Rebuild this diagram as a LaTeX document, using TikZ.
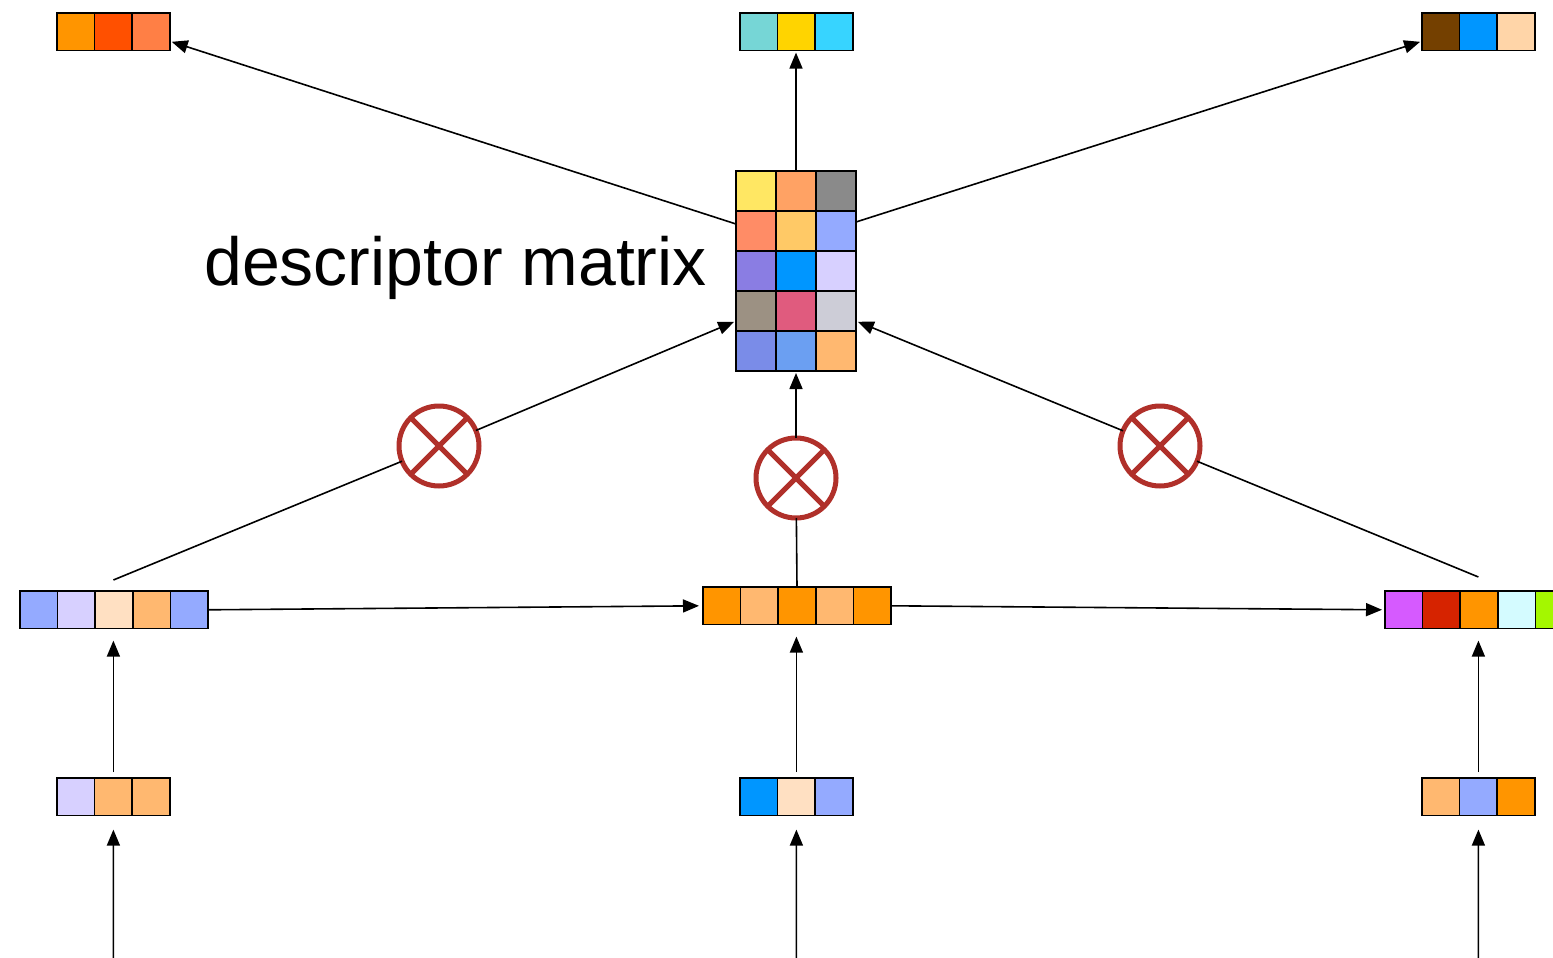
\documentclass[tikz,border=0pt]{standalone}
\usepackage{fontspec}
\setmainfont{Liberation Sans}
\usetikzlibrary{arrows.meta,calc}

% palette
\definecolor{cOrange}{HTML}{FF9500}
\definecolor{cRedOr}{HTML}{FF5000}
\definecolor{cCoral}{HTML}{FF7F45}
\definecolor{cTeal}{HTML}{76D6D6}
\definecolor{cGold}{HTML}{FFD400}
\definecolor{cSky}{HTML}{37D4FF}
\definecolor{cBrown}{HTML}{744000}
\definecolor{cBlue}{HTML}{0096FF}
\definecolor{cPeach}{HTML}{FFD5A8}
\definecolor{cYellow}{HTML}{FFE763}
\definecolor{cApricot}{HTML}{FFA264}
\definecolor{cGray}{HTML}{8A8A8A}
\definecolor{cSalmon}{HTML}{FF8C66}
\definecolor{cMango}{HTML}{FFC966}
\definecolor{cPeri}{HTML}{94AAFF}
\definecolor{cViolet}{HTML}{8A7DE3}
\definecolor{cLilac}{HTML}{D7D0FF}
\definecolor{cTaupe}{HTML}{9C9183}
\definecolor{cRose}{HTML}{E05B7E}
\definecolor{cSilver}{HTML}{CDCDD7}
\definecolor{cIndigo}{HTML}{7A8CE8}
\definecolor{cCorn}{HTML}{6B9FF2}
\definecolor{cTan}{HTML}{FFB870}
\definecolor{cCream}{HTML}{FFE0C2}
\definecolor{cMagenta}{HTML}{D65AFF}
\definecolor{cScarlet}{HTML}{D62300}
\definecolor{cIce}{HTML}{D4FBFF}
\definecolor{cLime}{HTML}{A4F700}
\definecolor{crossred}{HTML}{B0302A}

\newcommand{\cw}{37.6}
% a strip of coloured cells: #1 name, #2 left, #3 top, #4 number of cells, #5 colours
\newcommand{\cellstrip}[5]{%
  \foreach \c [count=\i from 0] in {#5}{
    \filldraw[cellbox, fill=\c] ({#2+\i*\cw},#3) rectangle ++(\cw,\cw);
  }
  \node[anchor=north west, minimum width={#4*\cw pt}, minimum height=\cw pt,
        inner sep=0pt, outer sep=0pt] (#1) at (#2,#3) {};
}

\begin{document}
\begin{tikzpicture}[x=1pt, y=-1pt,
  cellbox/.style={draw=black, line width=1.6pt},
  arr/.style={-{Triangle[length=16pt,width=13pt]}, line width=1.6pt},
  plain/.style={line width=1.6pt},
  mult/.style={circle, draw=crossred, line width=5pt, minimum size=80pt,
               inner sep=0pt, outer sep=0pt},
  label/.style={font=\fontsize{68}{80}\selectfont, inner sep=0pt, anchor=base west}]

\useasboundingbox (0,0) rectangle (1553,958);
\clip (0,0) rectangle (1553,958);

% output vectors
\cellstrip{tl}{57}{13}{3}{cOrange,cRedOr,cCoral}
\cellstrip{tc}{740}{13}{3}{cTeal,cGold,cSky}
\cellstrip{tr}{1422}{13}{3}{cBrown,cBlue,cPeach}

% descriptor matrix
\foreach \row [count=\r from 0] in {{cYellow,cApricot,cGray},{cSalmon,cMango,cPeri},{cViolet,cBlue,cLilac},{cTaupe,cRose,cSilver},{cIndigo,cCorn,cTan}}{
  \foreach \c [count=\i from 0] in \row {
    \filldraw[cellbox, fill=\c] ({736+\i*40},{171+\r*40}) rectangle ++(40,40);
  }
}
\node[anchor=north west, minimum width=120pt, minimum height=200pt,
      inner sep=0pt, outer sep=0pt] (M) at (736,171) {};
\node[label] (lbl) at (204,285) {descriptor matrix};

% hidden states
\cellstrip{ml}{20}{591}{5}{cPeri,cLilac,cCream,cTan,cPeri}
\cellstrip{mc}{703}{587}{5}{cOrange,cTan,cOrange,cTan,cOrange}
\cellstrip{mr}{1385}{591}{5}{cMagenta,cScarlet,cOrange,cIce,cLime}

% inputs
\cellstrip{bl}{57}{778}{3}{cLilac,cTan,cTan}
\cellstrip{bc}{740}{778}{3}{cBlue,cCream,cPeri}
\cellstrip{br}{1422}{778}{3}{cTan,cPeri,cOrange}

% multiplication gates
\node[mult] (gL) at (439,446) {};
\node[mult] (gC) at (796,478) {};
\node[mult] (gR) at (1160,446) {};
\foreach \g in {gL,gC,gR}{
  \draw[crossred, line width=5pt] (\g.north west) -- (\g.south east);
  \draw[crossred, line width=5pt] (\g.north east) -- (\g.south west);
}

% incoming edges
\coordinate (inL) at (113.4,958);
\coordinate (inC) at (796.4,958);
\coordinate (inR) at (1478.4,958);
\draw[arr, shorten >=14pt] (inL) -- (bl.south);
\draw[arr, shorten >=14pt] (inC) -- (bc.south);
\draw[arr, shorten >=14pt] (inR) -- (br.south);

% inputs to hidden states
\draw[arr, shorten <=6pt, shorten >=12pt] (bl.north) -- (bl.north |- ml.south);
\draw[arr, shorten <=6pt, shorten >=12pt] (bc.north) -- (bc.north |- mc.south);
\draw[arr, shorten <=6pt, shorten >=12pt] (br.north) -- (br.north |- mr.south);

% recurrence
\draw[arr, shorten >=4pt] (ml.east) -- (mc.west);
\draw[arr, shorten >=3pt] (mc.east) -- ($(mr.south west)!0.5!(mr.north west)$);

% hidden states through the gates into the matrix
\coordinate (sL) at ($(bl.north |- ml.north)+(0,-11)$);
\coordinate (sR) at ($(br.north |- mr.north)+(0,-14)$);
\draw[plain] (sL) -- (gL);
\draw[arr, shorten >=2pt] (gL) -- ($(M.south west)!0.25!(M.north west)$);
\draw[plain] (mc.north) -- (gC);
\draw[arr, shorten >=2pt] (gC) -- (gC |- M.south);
\draw[plain] (sR) -- (gR);
\draw[arr, shorten >=2pt] (gR) -- ($(M.south east)!0.25!(M.north east)$);

% matrix to outputs
\draw[arr, shorten >=2pt] (M.north) -- (M.north |- tc.south);
\draw[arr, shorten >=2pt] ($(M.north west)!0.265!(M.south west)$) -- ($(tl.south east)!0.25!(tl.north east)$);
\draw[arr, shorten >=2pt] ($(M.north east)!0.255!(M.south east)$) -- ($(tr.south west)!0.25!(tr.north west)$);

\end{tikzpicture}
\end{document}
